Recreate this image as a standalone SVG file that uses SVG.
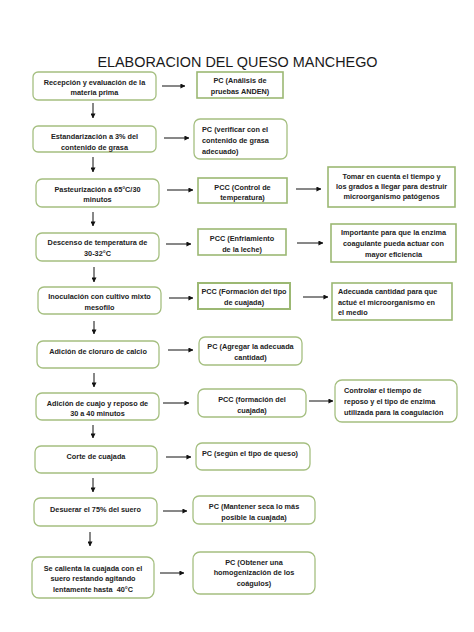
<svg xmlns="http://www.w3.org/2000/svg" width="474" height="632" viewBox="0 0 474 632">
<defs>
<marker id="ah" viewBox="0 0 6 6" refX="5.5" refY="3" markerWidth="5" markerHeight="5" markerUnits="userSpaceOnUse" orient="auto">
<path d="M0,0 L6,3 L0,6 z" fill="#111"/>
</marker>
</defs>
<style>
.r{fill:#fff;stroke:#a5bf80;stroke-width:1.3}
.s{fill:#fff;stroke:#9cb873;stroke-width:1.6}
.t{font-family:"Liberation Sans",Arial,sans-serif;font-weight:bold;font-size:7.3px;fill:#222;text-anchor:middle}
.l{text-anchor:start}
.title{font-family:"Liberation Sans",Arial,sans-serif;font-size:14.4px;fill:#1a1a1a;text-anchor:middle}
.c{stroke:#111;stroke-width:1;fill:none;marker-end:url(#ah)}
</style>
<rect width="474" height="632" fill="#fff"/>
<text class="title" x="237.5" y="67">ELABORACION DEL QUESO MANCHEGO</text>

<g id="connectors">
<path class="c" d="M162,86 H185"/>
<path class="c" d="M164,138 H189"/>
<path class="c" d="M167,190 H193"/>
<path class="c" d="M296,189 H321"/>
<path class="c" d="M166,244 H191"/>
<path class="c" d="M297,243 H323"/>
<path class="c" d="M169,298 H193"/>
<path class="c" d="M303,297 H328"/>
<path class="c" d="M168,350 H193"/>
<path class="c" d="M163,403 H189"/>
<path class="c" d="M309,401 H333"/>
<path class="c" d="M166,457 H191"/>
<path class="c" d="M163,511 H187"/>
<path class="c" d="M160,573 H184"/>
<path class="c" d="M93,103 V118"/>
<path class="c" d="M93,157 V172"/>
<path class="c" d="M93,212 V226"/>
<path class="c" d="M94,267 V282"/>
<path class="c" d="M94,321 V334"/>
<path class="c" d="M94,373 V387"/>
<path class="c" d="M93,425 V438"/>
<path class="c" d="M93,478 V492"/>
<path class="c" d="M90,532 V546"/>
</g>

<g id="n1"><rect class="r" x="33" y="72" width="123" height="28" rx="5"/>
<text class="t" x="94.5" y="84.5">Recepción y evaluación de la</text><text class="t" x="94.5" y="94.5">materia prima</text></g>
<g id="p1"><rect class="s" x="197" y="72" width="86" height="26"/>
<text class="t" x="240" y="82.5">PC (Análisis de</text><text class="t" x="240" y="93.5">pruebas ANDEN)</text></g>

<g id="n2"><rect class="r" x="33" y="126" width="123" height="26" rx="5"/>
<text class="t" x="94.5" y="138.5">Estandarización a 3% del</text><text class="t" x="94.5" y="149.5">contenido de grasa</text></g>
<g id="p2"><rect class="r" x="194" y="119" width="93" height="40" rx="6"/>
<text class="t l" x="202" y="131.5">PC (verificar con el</text><text class="t l" x="202" y="143">contenido de grasa</text><text class="t l" x="202" y="154">adecuado)</text></g>

<g id="n3"><rect class="r" x="36" y="179" width="123" height="28" rx="6"/>
<text class="t" x="97.5" y="191.5">Pasteurización a 65°C/30</text><text class="t" x="97.5" y="201.5">minutos</text></g>
<g id="p3"><rect class="s" x="198" y="178" width="89" height="25"/>
<text class="t" x="242.5" y="189.5">PCC (Control de</text><text class="t" x="242.5" y="199.5">temperatura)</text></g>
<g id="q3"><rect class="s" x="328" y="167" width="127" height="40"/>
<text class="t" x="391.5" y="178.5">Tomar en cuenta el tiempo y</text><text class="t" x="391.5" y="188.5">los grados a llegar para destruir</text><text class="t" x="391.5" y="199">microorganismo patógenos</text></g>

<g id="n4"><rect class="r" x="36" y="233" width="123" height="28" rx="6"/>
<text class="t" x="97.5" y="244.5">Descenso de temperatura de</text><text class="t" x="97.5" y="255.5">30-32°C</text></g>
<g id="p4"><rect class="s" x="198" y="229" width="88" height="26"/>
<text class="t" x="242" y="240.5">PCC (Enfriamiento</text><text class="t" x="242" y="251.5">de la leche)</text></g>
<g id="q4"><rect class="s" x="331" y="224" width="125" height="38"/>
<text class="t" x="393.5" y="234.5">Importante para que la enzima</text><text class="t" x="393.5" y="245.5">coagulante pueda actuar con</text><text class="t" x="393.5" y="256.5">mayor eficiencia</text></g>

<g id="n5"><rect class="r" x="38" y="287" width="123" height="27" rx="6"/>
<text class="t" x="99.5" y="298.5">Inoculación con cultivo mixto</text><text class="t" x="99.5" y="309.5">mesofilo</text></g>
<g id="p5"><rect class="s" x="198" y="283" width="92" height="26" style="stroke-width:2"/>
<text class="t" x="244" y="293.5">PCC (Formación del tipo</text><text class="t" x="244" y="304.5">de cuajada)</text></g>
<g id="q5"><rect class="s" x="332" y="283" width="120" height="37"/>
<text class="t l" x="338" y="293.5">Adecuada cantidad para que</text><text class="t l" x="338" y="304.5">actué el microorganismo en</text><text class="t l" x="338" y="314.5">el medio</text></g>

<g id="n6"><rect class="r" x="37" y="341" width="122" height="27" rx="6"/>
<text class="t" x="98" y="353.5">Adición de cloruro de calcio</text></g>
<g id="p6"><rect class="r" x="199" y="337" width="103" height="28" rx="6"/>
<text class="t" x="250.5" y="348.5">PC (Agregar la adecuada</text><text class="t" x="250.5" y="359.5">cantidad)</text></g>

<g id="n7"><rect class="r" x="36" y="393" width="123" height="27" rx="6"/>
<text class="t" x="97.5" y="405.5">Adición de cuajo y reposo de</text><text class="t" x="97.5" y="415.5">30 a 40 minutos</text></g>
<g id="p7"><rect class="r" x="198" y="389" width="108" height="28" rx="6"/>
<text class="t" x="252" y="401.5">PCC (formación del</text><text class="t" x="252" y="412.5">cuajada)</text></g>
<g id="q7"><rect class="r" x="335" y="380" width="122" height="42" rx="7"/>
<text class="t l" x="344" y="392.5">Controlar el tiempo de</text><text class="t l" x="344" y="403.5">reposo y el tipo de enzima</text><text class="t l" x="344" y="414.5">utilizada para la coagulación</text></g>

<g id="n8"><rect class="r" x="35" y="446" width="122" height="27" rx="6"/>
<text class="t" x="96" y="458.5">Corte de cuajada</text></g>
<g id="p8"><rect class="r" x="196" y="443" width="114" height="27" rx="6"/>
<text class="t" x="250" y="455.5">PC (según el tipo de queso)</text></g>

<g id="n9"><rect class="r" x="34" y="498" width="123" height="28" rx="6"/>
<text class="t" x="95.5" y="511.5">Desuerar el 75% del suero</text></g>
<g id="p9"><rect class="r" x="193" y="496" width="122" height="28" rx="6"/>
<text class="t" x="254" y="508.5">PC (Mantener seca lo más</text><text class="t" x="254" y="519.5">posible la cuajada)</text></g>

<g id="n10"><rect class="r" x="32" y="557" width="122" height="41" rx="7"/>
<text class="t" x="93" y="570.5">Se calienta la cuajada con el</text><text class="t" x="93" y="580.5">suero restando agitando</text><text class="t" x="93" y="591.5" xml:space="preserve">lentamente hasta  40°C</text></g>
<g id="p10"><rect class="r" x="193" y="552" width="122" height="42" rx="7"/>
<text class="t" x="254" y="564.5">PC (Obtener una</text><text class="t" x="254" y="574.5">homogenización de los</text><text class="t" x="254" y="585.5">coágulos)</text></g>
</svg>
